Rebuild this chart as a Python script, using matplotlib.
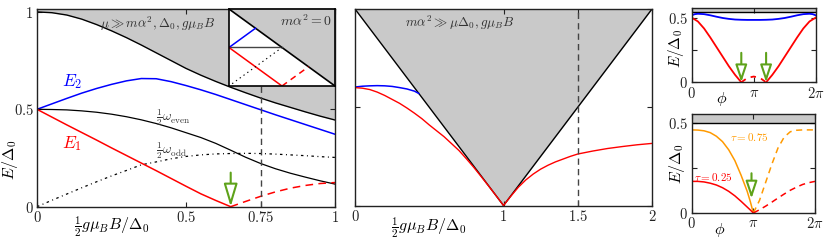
import matplotlib

matplotlib.use("Agg")
import matplotlib.pyplot as plt  # noqa: E402

plt.rcParams["mathtext.fontset"] = "cm"
plt.rcParams["font.family"] = "serif"
plt.rcParams["font.serif"] = ["DejaVu Serif"]

RED = "#ff0000"
BLUE = "#0000ff"
ORANGE = "#ff9a00"
GREEN = "#5ea21a"
SHADE = "#c9c9c9"
TXT = "#333333"

# --- panel (a): mu >> m alpha^2 -------------------------------------------
b_a = [0, 0.05, 0.1, 0.15, 0.2, 0.25, 0.3, 0.35, 0.4, 0.45, 0.5,
       0.55, 0.6, 0.65, 0.7, 0.75, 0.8, 0.85, 0.9, 0.95, 1.0]
gap_a = [1.0, 0.996, 0.984, 0.963, 0.935, 0.903, 0.868, 0.83, 0.79, 0.75, 0.71,
         0.675, 0.643, 0.613, 0.585, 0.558, 0.533, 0.51, 0.487, 0.465, 0.445]
e2_a = [0.5, 0.528, 0.556, 0.583, 0.607, 0.628, 0.646, 0.658, 0.657, 0.642, 0.622,
        0.6, 0.576, 0.55, 0.524, 0.498, 0.472, 0.447, 0.422, 0.397, 0.372]
even_a = [0.5, 0.499, 0.497, 0.492, 0.485, 0.475, 0.462, 0.446, 0.427, 0.405, 0.38,
          0.355, 0.325, 0.29, 0.254, 0.222, 0.195, 0.172, 0.152, 0.133, 0.116]
odd_a = [0.0, 0.033, 0.065, 0.097, 0.128, 0.158, 0.186, 0.215, 0.23, 0.246, 0.258,
         0.266, 0.271, 0.273, 0.274, 0.273, 0.27, 0.266, 0.262, 0.257, 0.253]
b_e1 = [0, 0.05, 0.1, 0.15, 0.2, 0.25, 0.3, 0.35, 0.4, 0.45, 0.5, 0.55, 0.6, 0.65]
e1_a = [0.5, 0.46, 0.42, 0.381, 0.342, 0.302, 0.263, 0.224, 0.185, 0.145, 0.105,
        0.066, 0.032, 0.0]
b_e1d = [0.65, 0.7, 0.75, 0.8, 0.85, 0.9, 0.95, 1.0]
e1d_a = [0.0, 0.027, 0.053, 0.076, 0.095, 0.109, 0.119, 0.124]
b_cut_a = 0.75
b_zero_a = 0.65

# inset: m alpha^2 = 0
ins_x = [0, 1]
ins_edge = [1, 0]
ins_blue_x, ins_blue_y = [0, 0.25], [0.5, 0.75]
ins_flat_x, ins_flat_y = [0, 0.5], [0.5, 0.5]
ins_red_x, ins_red_y = [0, 0.5], [0.5, 0.0]
ins_redd_x, ins_redd_y = [0.5, 0.75], [0.0, 0.25]
ins_dot_x, ins_dot_y = [0.03, 0.5], [0.03, 0.5]

# --- panel (b): m alpha^2 >> mu ---------------------------------------------
b_tri = [0, 1, 2]
tri = [1, 0, 1]
b_blue_b = [0, 0.05, 0.1, 0.15, 0.2, 0.25, 0.3, 0.35, 0.4, 0.43]
blue_b = [0.603, 0.607, 0.609, 0.61, 0.609, 0.606, 0.6, 0.593, 0.582, 0.57]
b_red_b = [0, 0.05, 0.1, 0.15, 0.2, 0.25, 0.3, 0.35, 0.4, 0.45, 0.5,
           0.55, 0.6, 0.65, 0.7, 0.75, 0.8, 0.85, 0.9, 0.95, 1.0]
red_b = [0.6, 0.597, 0.59, 0.577, 0.56, 0.54, 0.52, 0.496, 0.47, 0.442, 0.41,
         0.38, 0.35, 0.315, 0.28, 0.238, 0.194, 0.147, 0.099, 0.05, 0.0]
b_red2_b = [1.0, 1.05, 1.1, 1.15, 1.2, 1.25, 1.3, 1.35, 1.4, 1.45, 1.5,
            1.6, 1.7, 1.8, 1.9, 2.0]
red2_b = [0.0, 0.048, 0.093, 0.13, 0.16, 0.185, 0.205, 0.222, 0.236, 0.25, 0.262,
          0.277, 0.29, 0.3, 0.309, 0.316]
b_cut_b = 1.5

# --- panel (c): phase dependence (phi in units of pi) ------------------------
phi_c = [0, 0.05, 0.1, 0.2, 0.3, 0.4, 0.5, 0.6, 0.7, 0.8, 0.9, 1.0,
         1.1, 1.2, 1.3, 1.4, 1.5, 1.6, 1.7, 1.8, 1.9, 1.95, 2.0]
blue_c = [0.523, 0.532, 0.535, 0.532, 0.523, 0.512, 0.502, 0.495, 0.49, 0.488, 0.487, 0.487,
          0.487, 0.488, 0.49, 0.495, 0.502, 0.512, 0.523, 0.532, 0.535, 0.532, 0.523]
phi_c_l = [0, 0.1, 0.2, 0.3, 0.4, 0.5, 0.6, 0.7, 0.8]
red_c_l = [0.505, 0.475, 0.42, 0.35, 0.275, 0.2, 0.125, 0.058, 0.0]
phi_c_m = [0.8, 0.9, 1.0, 1.1, 1.2]
red_c_m = [0.0, 0.035, 0.045, 0.035, 0.0]
phi_c_r = [1.2, 1.3, 1.4, 1.5, 1.6, 1.7, 1.8, 1.9, 2.0]
red_c_r = [0.0, 0.058, 0.125, 0.2, 0.275, 0.35, 0.42, 0.475, 0.505]
phi_arrows_c = [0.8, 1.2]
gap_c = 0.545

# --- panel (d): two transparencies --------------------------------------------
phi_d_l = [0, 0.1, 0.2, 0.3, 0.4, 0.5, 0.6, 0.7, 0.8, 0.9, 0.95, 1.0]
orange_l = [0.46, 0.459, 0.455, 0.445, 0.425, 0.395, 0.35, 0.29, 0.21, 0.12, 0.064, 0.0]
red_d_l = [0.175, 0.175, 0.172, 0.165, 0.155, 0.14, 0.12, 0.095, 0.065, 0.033, 0.017, 0.0]
phi_d_r = [1.0, 1.1, 1.2, 1.3, 1.4, 1.5, 1.6, 1.7, 1.8, 1.9, 2.0]
orange_r = [0.0, 0.07, 0.17, 0.27, 0.36, 0.42, 0.45, 0.458, 0.46, 0.46, 0.46]
red_d_r = [0.0, 0.018, 0.038, 0.06, 0.083, 0.105, 0.126, 0.143, 0.158, 0.168, 0.175]
phi_arrow_d = 0.97
gap_d = 0.5

W, H = 830, 245
fig = plt.figure(figsize=(W / 100, H / 100), dpi=100)


def px_axes(x0, y0, x1, y1):
    return fig.add_axes([x0 / W, (H - y1) / H, (x1 - x0) / W, (y1 - y0) / H])


def style(ax):
    ax.tick_params(direction="in", top=True, right=True, length=3.5, width=0.8,
                   labelsize=10.5, pad=2.5, colors="#222222")
    for s in ax.spines.values():
        s.set_linewidth(1.0)
        s.set_color("#222222")


def green_arrow(ax, x, y_tail, y_tip, hl, hw):
    ax.annotate("", xy=(x, y_tip), xytext=(x, y_tail),
                arrowprops=dict(arrowstyle=f"-|>,head_length={hl},head_width={hw}",
                                fc="white", ec=GREEN, lw=1.5, shrinkA=0, shrinkB=0),
                zorder=6)


# panel (a)
ax1 = px_axes(37, 9, 335, 206.7)
style(ax1)
ax1.fill_between(b_a, gap_a, 1.1, color=SHADE, lw=0)
ax1.plot(b_a, gap_a, color="black", lw=1.0)
ax1.plot(b_a, e2_a, color=BLUE, lw=1.1)
ax1.plot(b_a, even_a, color="black", lw=0.9)
ax1.plot(b_a, odd_a, color="black", lw=0.9, dashes=(2.0, 2.8, 0.8, 2.8))
ax1.plot(b_e1, e1_a, color=RED, lw=1.1)
ax1.plot(b_e1d, e1d_a, color=RED, lw=1.1, dashes=(5, 3.5))
ax1.axvline(b_cut_a, color="#444444", lw=1.0, dashes=(4.5, 3))
green_arrow(ax1, b_zero_a, 0.175, 0.0, 1.4, 0.42)
ax1.set_xlim(0, 1)
ax1.set_ylim(0, 1.015)
ax1.set_xticks([0, 0.5, 0.75, 1])
ax1.set_xticklabels(["$0$", "$0.5$", "$0.75$", "$1$"])
ax1.set_yticks([0, 0.5, 1])
ax1.set_yticklabels(["$0$", "$0.5$", "$1$"])
ax1.text(0.21, 0.94, r"$\mu \gg m\alpha^2, \Delta_0, g\mu_B B$", color=TXT,
         fontsize=9.5, va="center")
ax1.text(0.085, 0.645, r"$E_2$", color=BLUE, fontsize=12.5, va="center")
ax1.text(0.085, 0.325, r"$E_1$", color=RED, fontsize=12.5, va="center")
ax1.text(0.4, 0.455, r"$\frac{1}{2}\omega_{\mathrm{even}}$", color=TXT, fontsize=9.5,
         va="center")
ax1.text(0.4, 0.29, r"$\frac{1}{2}\omega_{\mathrm{odd}}$", color=TXT, fontsize=9.5,
         va="center")
ax1.text(0.25, -0.1, r"$\frac{1}{2}g\mu_B B/\Delta_0$", transform=ax1.transAxes,
         ha="center", va="center", fontsize=11.5)
ax1.text(-0.09, 0.24, r"$E/\Delta_0$", transform=ax1.transAxes, rotation=90,
         ha="center", va="center", fontsize=11.5)

# inset of (a)
axi = px_axes(229, 9, 335, 86)
axi.set_facecolor("white")
axi.fill_between(ins_x, ins_edge, 1.1, color=SHADE, lw=0)
axi.plot(ins_x, ins_edge, color="black", lw=1.2)
axi.plot(ins_flat_x, ins_flat_y, color="#444444", lw=1.0)
axi.plot(ins_blue_x, ins_blue_y, color=BLUE, lw=1.1)
axi.plot(ins_red_x, ins_red_y, color=RED, lw=1.1)
axi.plot(ins_redd_x, ins_redd_y, color=RED, lw=1.1, dashes=(4, 3))
axi.plot(ins_dot_x, ins_dot_y, color="black", lw=0.8, dashes=(1.2, 3))
axi.set_xlim(0, 1)
axi.set_ylim(0, 1)
axi.set_xticks([])
axi.set_yticks([])
for s in axi.spines.values():
    s.set_linewidth(1.2)
axi.text(0.97, 0.84, r"$m\alpha^2 = 0$", color=TXT, fontsize=10, ha="right",
         va="center", transform=axi.transAxes)

# panel (b)
ax2 = px_axes(355, 9, 652, 205.5)
style(ax2)
ax2.fill_between(b_tri, tri, 1.1, color=SHADE, lw=0)
ax2.plot(b_tri, tri, color="black", lw=1.0)
ax2.plot(b_blue_b, blue_b, color=BLUE, lw=1.1)
ax2.plot(b_red_b, red_b, color=RED, lw=1.0)
ax2.plot(b_red2_b, red2_b, color=RED, lw=1.0)
ax2.axvline(b_cut_b, color="#444444", lw=1.0, dashes=(4.5, 3))
ax2.set_xlim(0, 2)
ax2.set_ylim(0, 1)
ax2.set_xticks([0, 1, 1.5, 2])
ax2.set_xticklabels(["$0$", "$1$", "$1.5$", "$2$"])
ax2.set_yticks([0, 0.5, 1])
ax2.set_yticklabels([])
ax2.text(0.34, 0.93, r"$m\alpha^2 \gg \mu\Delta_0, g\mu_B B$", color=TXT,
         fontsize=9.5, va="center")
ax2.text(0.25, -0.11, r"$\frac{1}{2}g\mu_B B/\Delta_0$", transform=ax2.transAxes,
         ha="center", va="center", fontsize=11.5)

# panel (c)
ax3 = px_axes(691.7, 8, 815.7, 82.3)
style(ax3)
ax3.fill_between([0, 2], gap_c, 0.7, color=SHADE, lw=0)
ax3.axhline(gap_c, color="black", lw=1.0)
ax3.plot(phi_c, blue_c, color=BLUE, lw=1.3)
ax3.plot(phi_c_l, red_c_l, color=RED, lw=1.3)
ax3.plot(phi_c_m, red_c_m, color=RED, lw=1.3, dashes=(3, 3))
ax3.plot(phi_c_r, red_c_r, color=RED, lw=1.3)
for p in phi_arrows_c:
    green_arrow(ax3, p, 0.23, 0.0, 1.05, 0.35)
ax3.set_xlim(0, 2)
ax3.set_ylim(0, 0.58)
ax3.set_xticks([0, 1, 2])
ax3.set_xticklabels(["$0$", r"$\pi$", r"$2\pi$"])
ax3.set_yticks([0, 0.25, 0.5])
ax3.set_yticklabels(["$0$", "", "$0.5$"])
ax3.text(0.245, -0.22, r"$\phi$", transform=ax3.transAxes, ha="center",
         va="center", fontsize=11.5)
ax3.text(-0.125, 0.45, r"$E/\Delta_0$", transform=ax3.transAxes, rotation=90,
         ha="center", va="center", fontsize=11)

# panel (d)
ax4 = px_axes(691.7, 114, 815, 213)
style(ax4)
ax4.fill_between([0, 2], gap_d, 0.7, color=SHADE, lw=0)
ax4.axhline(gap_d, color="black", lw=1.0)
ax4.plot(phi_d_l, orange_l, color=ORANGE, lw=1.1)
ax4.plot(phi_d_r, orange_r, color=ORANGE, lw=1.1, dashes=(4, 3))
ax4.plot(phi_d_l, red_d_l, color=RED, lw=1.1)
ax4.plot(phi_d_r, red_d_r, color=RED, lw=1.1, dashes=(4, 3))
green_arrow(ax4, phi_arrow_d, 0.22, 0.08, 1.05, 0.35)
ax4.set_xlim(0, 2)
ax4.set_ylim(0, 0.548)
ax4.set_xticks([0, 1, 2])
ax4.set_xticklabels(["$0$", r"$\pi$", r"$2\pi$"])
ax4.set_yticks([0, 0.25, 0.5])
ax4.set_yticklabels(["$0$", "", "$0.5$"])
ax4.text(0.62, 0.42, r"$\tau = 0.75$", color=ORANGE, fontsize=8, va="center")
ax4.text(0.03, 0.2, r"$\tau = 0.25$", color=RED, fontsize=8, va="center")
ax4.text(0.23, -0.17, r"$\phi$", transform=ax4.transAxes, ha="center",
         va="center", fontsize=11.5)
ax4.text(-0.12, 0.5, r"$E/\Delta_0$", transform=ax4.transAxes, rotation=90,
         ha="center", va="center", fontsize=11.5)

fig.savefig("out.png", dpi=100)
plt.close(fig)
